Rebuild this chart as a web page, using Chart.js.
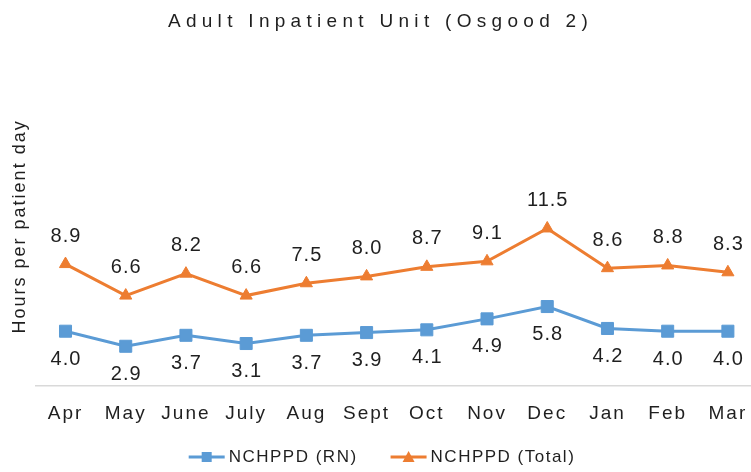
<!DOCTYPE html>
<html>
<head>
<meta charset="utf-8">
<title>Adult Inpatient Unit (Osgood 2)</title>
<script src="https://cdn.jsdelivr.net/npm/chart.js@4.4.1/dist/chart.umd.min.js"></script>
<style>
  html, body { margin: 0; padding: 0; background: #fff; overflow: hidden; }
  #clip { width: 751px; height: 472px; overflow: hidden; position: relative; }
  #wrap { position: absolute; left: 0; top: 0; width: 760px; height: 472px; }
</style>
</head>
<body>
<div id="clip"><div id="wrap"><canvas id="hppdChart"></canvas></div></div>
<script>
// Chart data
const titleText = 'Adult Inpatient Unit (Osgood 2)';
const axisTitle = 'Hours per patient day';
const months = ['Apr', 'May', 'June', 'July', 'Aug', 'Sept', 'Oct', 'Nov', 'Dec', 'Jan', 'Feb', 'Mar'];
const rnLabel = 'NCHPPD (RN)';
const rnValues = [4.0, 2.9, 3.7, 3.1, 3.7, 3.9, 4.1, 4.9, 5.8, 4.2, 4.0, 4.0];
const totalLabel = 'NCHPPD (Total)';
const totalValues = [8.9, 6.6, 8.2, 6.6, 7.5, 8.0, 8.7, 9.1, 11.5, 8.6, 8.8, 8.3];

const blue = '#5b9bd5';
const orange = '#ed7d31';
const textColor = '#1f1f1f';
const sans = '"Liberation Sans", Arial, sans-serif';

// Wider letter spacing for the axis text, like the original
const spacing = {
    id: 'spacing',
    beforeUpdate(chart) { chart.ctx.letterSpacing = '2px'; },
    beforeDraw(chart) { chart.ctx.letterSpacing = '2px'; }
};

// Title drawn by hand to get the spaced-out look
const chartTitle = {
    id: 'chartTitle',
    afterDraw(chart) {
        const ctx = chart.ctx;
        ctx.save();
        ctx.letterSpacing = '5.3px';
        ctx.font = '19px ' + sans;
        ctx.fillStyle = textColor;
        ctx.textAlign = 'center';
        ctx.textBaseline = 'middle';
        ctx.fillText(titleText, 380.5, 22);
        ctx.restore();
    }
};

// Value labels: Total above the points, RN below
const valueLabels = {
    id: 'valueLabels',
    afterDatasetsDraw(chart) {
        const ctx = chart.ctx;
        ctx.save();
        ctx.letterSpacing = '1px';
        ctx.font = '20px ' + sans;
        ctx.fillStyle = textColor;
        ctx.textAlign = 'center';
        ctx.textBaseline = 'middle';
        chart.data.datasets.forEach((ds, i) => {
            const meta = chart.getDatasetMeta(i);
            const shift = i === 0 ? 28 : -28;
            meta.data.forEach((pt, j) => {
                ctx.fillText(ds.data[j].toFixed(1), pt.x + 0.5, pt.y + shift);
            });
        });
        ctx.restore();
    }
};

// Legend in the Excel style: line with marker, then the series name
const seriesLegend = {
    id: 'seriesLegend',
    afterDraw(chart) {
        const ctx = chart.ctx;
        const lineLen = 36, textGap = 4, itemGap = 33, y = 457;
        ctx.save();
        ctx.letterSpacing = '1.5px';
        ctx.font = '17px ' + sans;
        const items = chart.data.datasets.map((ds) => ({
            text: ds.label,
            color: ds.borderColor,
            shape: ds.pointStyle,
            width: ctx.measureText(ds.label).width
        }));
        let total = 0;
        items.forEach((it, i) => {
            total += lineLen + textGap + it.width + (i > 0 ? itemGap : 0);
        });
        let x = 382 - total / 2;
        items.forEach((it, i) => {
            if (i > 0) x += itemGap;
            ctx.strokeStyle = it.color;
            ctx.fillStyle = it.color;
            ctx.lineWidth = 3;
            ctx.beginPath();
            ctx.moveTo(x, y);
            ctx.lineTo(x + lineLen, y);
            ctx.stroke();
            const cx = x + lineLen / 2;
            if (it.shape === 'rect') {
                ctx.fillRect(cx - 5, y - 5, 10, 10);
            } else {
                ctx.beginPath();
                ctx.moveTo(cx, y - 6);
                ctx.lineTo(cx + 6, y + 5);
                ctx.lineTo(cx - 6, y + 5);
                ctx.closePath();
                ctx.fill();
            }
            x += lineLen + textGap;
            ctx.fillStyle = textColor;
            ctx.textAlign = 'left';
            ctx.textBaseline = 'middle';
            ctx.fillText(it.text, x, y);
            x += it.width;
        });
        ctx.restore();
    }
};

const ctx = document.getElementById('hppdChart').getContext('2d');
const hppdChart = new Chart(ctx, {
    type: 'line',
    data: {
        labels: months,
        datasets: [{
            label: rnLabel,
            data: rnValues,
            borderColor: blue,
            backgroundColor: blue,
            borderWidth: 3,
            pointStyle: 'rect',
            pointRadius: 8.5,
            pointBorderWidth: 1,
            tension: 0
        }, {
            label: totalLabel,
            data: totalValues,
            borderColor: orange,
            backgroundColor: orange,
            borderWidth: 3,
            pointStyle: 'triangle',
            pointRadius: 7,
            pointBorderWidth: 1,
            tension: 0
        }]
    },
    options: {
        responsive: true,
        maintainAspectRatio: false,
        animation: false,
        layout: {
            autoPadding: false,
            padding: { top: 66.8, right: 2, left: 0, bottom: 0 }
        },
        plugins: {
            title: { display: false },
            tooltip: { enabled: false },
            legend: { display: false }
        },
        scales: {
            x: {
                offset: true,
                grid: { display: false, drawTicks: false },
                border: { display: true, color: '#d9d9d9', width: 1.5 },
                ticks: {
                    color: textColor,
                    font: { size: 19, family: sans, lineHeight: 2 },
                    padding: 9,
                    maxRotation: 0,
                    autoSkip: false
                },
                afterFit(scale) { scale.height = 86; }
            },
            y: {
                min: 0,
                max: 23.3,
                grid: { display: false, drawTicks: false },
                border: { display: false },
                ticks: { display: false },
                title: {
                    display: true,
                    text: axisTitle,
                    color: textColor,
                    font: { size: 18, family: sans },
                    padding: { top: 9, bottom: 0 }
                },
                afterFit(scale) { scale.width = 35.4; }
            }
        }
    },
    plugins: [spacing, chartTitle, valueLabels, seriesLegend]
});
</script>
</body>
</html>
